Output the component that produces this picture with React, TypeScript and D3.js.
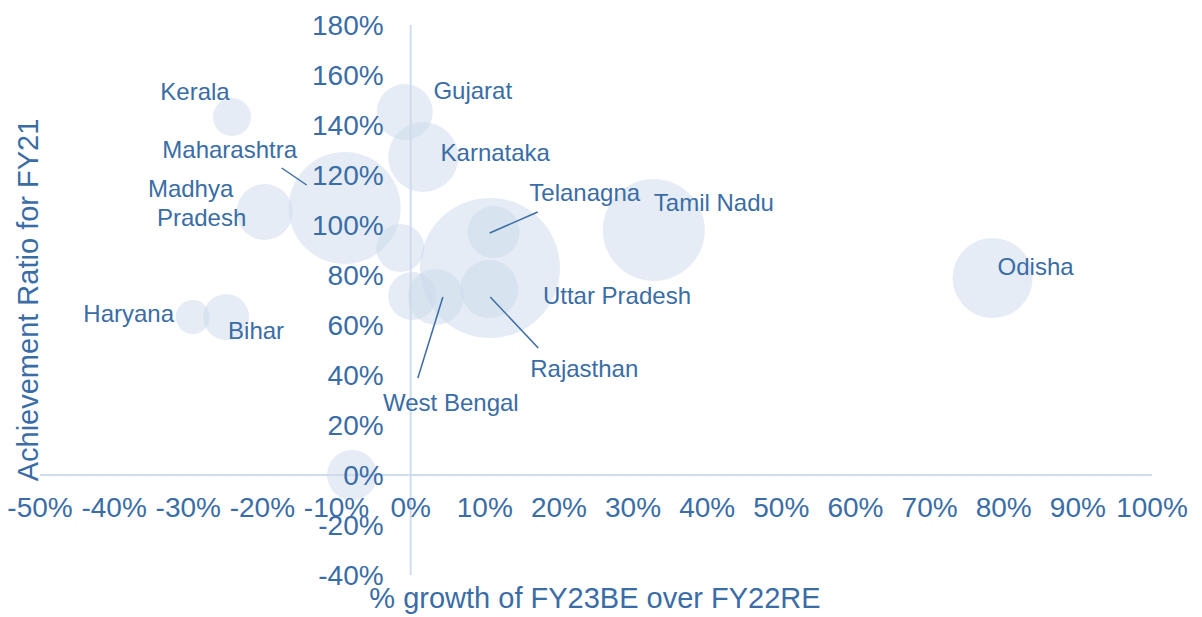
import React from "react";
import * as d3 from "d3";

// ---- data ----
const states = [
  "Kerala", "Gujarat", "Karnataka", "Maharashtra", "Madhya Pradesh", "Haryana", "Bihar",
  "", "", "West Bengal", "Uttar Pradesh", "Telanagna", "Rajasthan", "Tamil Nadu", "Odisha", "",
];
const growth = [
  -0.241, -0.008, 0.017, -0.089, -0.197, -0.294, -0.249,
  -0.014, 0.002, 0.034, 0.107, 0.112, 0.106, 0.328, 0.785, -0.079,
];
const achievement = [
  1.432, 1.452, 1.272, 1.068, 1.052, 0.632, 0.632,
  0.908, 0.716, 0.712, 0.828, 0.972, 0.744, 0.98, 0.788, 0.0,
];
const bubbleSize = [
  7.4, 16, 25, 64, 16, 5.9, 10.8,
  11.8, 11.8, 16, 100, 13.8, 17.2, 53, 32.7, 12.8,
];
const xTicks = [-0.5, -0.4, -0.3, -0.2, -0.1, 0, 0.1, 0.2, 0.3, 0.4, 0.5, 0.6, 0.7, 0.8, 0.9, 1.0];
const yTicks = [-0.4, -0.2, 0, 0.2, 0.4, 0.6, 0.8, 1.0, 1.2, 1.4, 1.6, 1.8];
const xTitle = "% growth of FY23BE over FY22RE";
const yTitle = "Achievement Ratio for FY21";

// ---- label layout (offsets from bubble centre, px) ----
type LabelLayout = { lines: [string, number, number][]; leader?: [number, number, number, number] };
const labelLayout: Record<string, LabelLayout> = {
  Kerala: { lines: [["Kerala", -37, -26]] },
  Gujarat: { lines: [["Gujarat", 68, -22]] },
  Karnataka: { lines: [["Karnataka", 72, -5]] },
  Maharashtra: { lines: [["Maharashtra", -115, -59]], leader: [-63, -40, -38, -23] },
  "Madhya Pradesh": { lines: [["Madhya", -74, -24], ["Pradesh", -63, 5]] },
  Haryana: { lines: [["Haryana", -64, -4]] },
  Bihar: { lines: [["Bihar", 30, 13]] },
  "West Bengal": { lines: [["West Bengal", 15, 105]], leader: [7, 0, -18, 81] },
  "Uttar Pradesh": { lines: [["Uttar Pradesh", 127, 27]] },
  Telanagna: { lines: [["Telanagna", 91, -40]], leader: [-4, 1, 44, -20] },
  Rajasthan: { lines: [["Rajasthan", 95, 79]], leader: [1, 8, 49, 59] },
  "Tamil Nadu": { lines: [["Tamil Nadu", 60, -28]] },
  Odisha: { lines: [["Odisha", 43, -12]] },
};

const W = 1202;
const H = 617;
const FONT = "'Liberation Sans', Arial, sans-serif";
const TEXT = "#3a6da6";
const AXIS = "#cfdcec";

const pct = (v: number) => `${Math.round(v * 100)}%`.replace("\u2212", "-");

export default function App() {
  const x = d3.scaleLinear().domain([-0.5, 1.0]).range([40, 1152]);
  const y = d3.scaleLinear().domain([-0.4, 1.8]).range([575, 25]);
  const r = d3.scaleSqrt().domain([0, d3.max(bubbleSize) as number]).range([0, 70]);

  const idx = d3.range(states.length).sort((a, b) => bubbleSize[b] - bubbleSize[a]);

  return (
    <svg
      width={W}
      height={H}
      style={{ position: "absolute", left: 0, top: 0, background: "#fff" }}
      fontFamily={FONT}
    >
      {/* axes lines */}
      <line x1={x(-0.5)} x2={x(1.0)} y1={y(0)} y2={y(0)} stroke={AXIS} strokeWidth={2} />
      <line x1={x(0)} x2={x(0)} y1={y(1.8)} y2={y(-0.4)} stroke={AXIS} strokeWidth={2} />

      {/* bubbles */}
      {idx.map((i) => (
        <circle
          key={"b" + i}
          cx={x(growth[i])}
          cy={y(achievement[i])}
          r={r(bubbleSize[i])}
          fill="rgb(203,217,235)"
          fillOpacity={0.5}
        />
      ))}

      {/* x tick labels */}
      {xTicks.map((t) => (
        <text
          key={"xt" + t}
          x={x(t)}
          y={y(0) + 32}
          textAnchor="middle"
          dominantBaseline="central"
          fontSize={28}
          fill={TEXT}
        >
          {pct(t)}
        </text>
      ))}

      {/* y tick labels */}
      {yTicks.map((t) => (
        <text
          key={"yt" + t}
          x={x(0) - 27}
          y={y(t)}
          textAnchor="end"
          dominantBaseline="central"
          fontSize={28}
          fill={TEXT}
        >
          {pct(t)}
        </text>
      ))}

      {/* leader lines and data labels */}
      {states.map((s, i) => {
        const lay = labelLayout[s];
        if (!s || !lay) return null;
        const cx = x(growth[i]);
        const cy = y(achievement[i]);
        return (
          <g key={"l" + i}>
            {lay.leader && (
              <line
                x1={cx + lay.leader[0]}
                y1={cy + lay.leader[1]}
                x2={cx + lay.leader[2]}
                y2={cy + lay.leader[3]}
                stroke={TEXT}
                strokeWidth={1.5}
              />
            )}
            {lay.lines.map(([t, dx, dy], k) => (
              <text
                key={k}
                x={cx + dx}
                y={cy + dy}
                textAnchor="middle"
                dominantBaseline="central"
                fontSize={24}
                fill={TEXT}
              >
                {t}
              </text>
            ))}
          </g>
        );
      })}

      {/* axis titles */}
      <text x={595} y={598} textAnchor="middle" dominantBaseline="central" fontSize={29} fill={TEXT}>
        {xTitle}
      </text>
      <text
        transform={`translate(28, 300) rotate(-90)`}
        textAnchor="middle"
        dominantBaseline="central"
        fontSize={29}
        fill={TEXT}
      >
        {yTitle}
      </text>
    </svg>
  );
}
